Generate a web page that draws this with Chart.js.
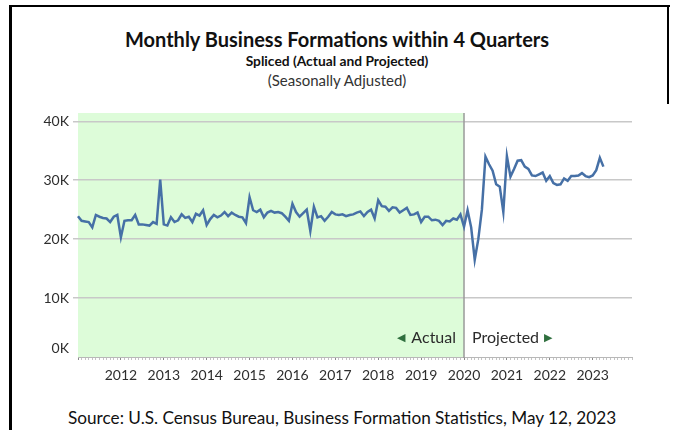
<!DOCTYPE html>
<html>
<head>
<meta charset="utf-8">
<script src="https://cdn.jsdelivr.net/npm/chart.js@4"></script>
<style>
    html, body { margin: 0; padding: 0; background: #fff; }
    body { width: 674px; height: 430px; position: relative; overflow: hidden; font-family: Lato, sans-serif; }
    #chart { position: absolute; left: 0; top: 0; }
    .frame { position: absolute; background: #000; }
    .txt { position: absolute; white-space: nowrap; color: #111; }
    #title { left: 0; width: 674px; top: 27px; text-align: center; font-weight: bold; font-size: 20px; line-height: 24px; }
    #subtitle { left: 0; width: 674px; top: 52px; text-align: center; font-weight: bold; font-size: 13.8px; line-height: 17px; }
    #note { left: 0; width: 674px; top: 71px; text-align: center; font-size: 15px; line-height: 18px; color: #333; }
    #source { left: 68px; top: 407px; font-size: 17.2px; line-height: 21px; }
</style>
</head>
<body>
<div class="frame" style="left:9px; top:5px; width:661px; height:2px;"></div>
<div class="frame" style="left:9px; top:5px; width:3px; height:425px;"></div>
<div class="frame" style="left:667px; top:5px; width:2px; height:99px;"></div>

<div class="txt" id="title">Monthly Business Formations within 4 Quarters</div>
<div class="txt" id="subtitle">Spliced (Actual and Projected)</div>
<div class="txt" id="note">(Seasonally Adjusted)</div>
<div class="txt" id="source">Source: U.S. Census Bureau, Business Formation Statistics, May 12, 2023</div>

<canvas id="chart" width="674" height="430"></canvas>

<script>
// axis years (Jan 2011 .. Dec 2023), labels shown on the x axis
const years = [2011, 2012, 2013, 2014, 2015, 2016, 2017, 2018, 2019, 2020, 2021, 2022, 2023];
const xTickYears = ['2012', '2013', '2014', '2015', '2016', '2017', '2018', '2019', '2020', '2021', '2022', '2023'];
const yTickLabels = ['0K', '10K', '20K', '30K', '40K'];

// business formations within 4 quarters, thousands, monthly from Jan 2011
const actualFormations = [
    23.9, 23.1, 23.0, 22.9, 22.0, 24.1, 23.8, 23.6, 23.5, 22.9, 23.8, 24.1,
    20.3, 23.1, 23.2, 23.2, 24.1, 22.5, 22.5, 22.4, 22.3, 22.9, 22.6, 30.1,
    22.5, 22.3, 23.7, 22.9, 23.2, 24.2, 23.6, 23.8, 22.9, 24.3, 24.0, 24.9,
    22.4, 23.4, 24.1, 23.7, 24.0, 24.6, 23.9, 24.5, 24.1, 23.8, 23.7, 22.7,
    27.1, 24.9, 24.6, 25.0, 23.7, 24.5, 24.8, 24.5, 24.6, 24.4, 23.8, 23.1,
    26.0, 24.6, 23.8, 24.4, 25.0, 21.4, 25.5, 23.7, 23.9, 23.1, 23.8, 24.6,
    24.2, 24.1, 24.2, 23.9, 24.1, 24.2, 24.5, 24.7, 23.9, 24.6, 25.0, 23.5,
    26.6, 25.6, 25.5, 24.8, 25.4, 25.3, 24.5, 24.9, 25.3, 24.1, 24.2, 24.5,
    22.9, 23.8, 23.8, 23.2, 23.3, 23.1, 22.4, 23.1, 23.0, 23.5, 23.3, 24.2
];
// projected from Jan 2020 to Apr 2023
const projectedFormations = [
    22.1, 24.9, 22.0, 16.5, 20.0, 25.0, 34.0, 32.7, 31.6, 29.3, 28.9, 24.6,
    34.1, 30.6, 31.9, 33.3, 33.4, 32.3, 31.9, 30.8, 30.7, 31.0, 31.3, 29.9,
    30.7, 29.5, 29.2, 29.3, 30.3, 29.9, 30.7, 30.7, 30.8, 31.2, 30.7, 30.5,
    30.8, 31.7, 33.8, 32.3
];

const splitLabel = '2020-01';

//------------------------------HELPERS------------------------------

function buildMonthLabels() {
    const labels = [];
    for (const year of years) {
        for (let month = 1; month <= 12; month++) {
            labels.push(year + '-' + String(month).padStart(2, '0'));
        }
    }
    return labels;
};

const monthLabels = buildMonthLabels();

// green "actual" area + divider + the Actual / Projected captions
const splicePlugin = {
    id: 'splice',
    beforeDraw(chart) {
        const { ctx, chartArea, scales } = chart;
        const splitX = scales.x.getPixelForValue(monthLabels.indexOf(splitLabel));
        ctx.save();
        ctx.fillStyle = 'rgb(221, 252, 217)';
        ctx.fillRect(chartArea.left, chartArea.top, splitX - chartArea.left, chartArea.bottom - chartArea.top);
        ctx.restore();
    },
    beforeDatasetsDraw(chart) {
        const { ctx, chartArea, scales } = chart;
        const splitX = scales.x.getPixelForValue(monthLabels.indexOf(splitLabel));
        ctx.save();
        ctx.strokeStyle = '#9a9a9a';
        ctx.lineWidth = 1.5;
        ctx.beginPath();
        ctx.moveTo(splitX, chartArea.top);
        ctx.lineTo(splitX, chartArea.bottom + 1);
        ctx.stroke();

        const y = 338;
        ctx.textBaseline = 'middle';
        ctx.font = '16px Lato';
        ctx.fillStyle = '#2b2b2b';
        const actualWidth = ctx.measureText('Actual').width;
        ctx.fillText('Actual', splitX - 8 - actualWidth, y);
        ctx.fillText('Projected', splitX + 8, y);
        const projectedWidth = ctx.measureText('Projected').width;

        ctx.font = '11px "DejaVu Sans"';
        ctx.fillStyle = '#2f6f3e';
        const arrowWidth = ctx.measureText('\u25C0').width;
        ctx.fillText('\u25C0', splitX - 8 - actualWidth - 6 - arrowWidth, y);
        ctx.fillText('\u25B6', splitX + 8 + projectedWidth + 5, y);
        ctx.restore();
    }
};

//------------------------------CHART------------------------------

new Chart(document.getElementById('chart'), {
    type: 'line',
    data: {
        labels: monthLabels,
        datasets: [{
            data: actualFormations.concat(projectedFormations),
            borderColor: 'rgb(70, 112, 166)',
            borderWidth: 2.5,
            pointRadius: 0,
            tension: 0,
            fill: false
        }]
    },
    options: {
        responsive: false,
        animation: false,
        devicePixelRatio: 1,
        layout: { padding: { left: 18, right: 42, top: 113, bottom: 33 } },
        plugins: {
            legend: { display: false },
            tooltip: { enabled: false }
        },
        scales: {
            x: {
                type: 'category',
                offset: false,
                afterFit: (scale) => { scale.height = 40; },
                border: { display: true, color: '#b8b8b8', width: 1, dash: [1, 1.5] },
                grid: {
                    drawOnChartArea: false,
                    drawTicks: true,
                    tickLength: 3,
                    color: (ctx) => (ctx.index % 12 === 0 ? '#8a8a8a' : '#c4c4c4')
                },
                ticks: {
                    autoSkip: false,
                    maxRotation: 0,
                    minRotation: 0,
                    padding: 7,
                    color: '#2e2e2e',
                    font: { family: 'Lato', size: 14 },
                    callback: (value, index) => {
                        const [year, month] = monthLabels[index].split('-');
                        return month === '01' && xTickYears.includes(year) ? year : '';
                    }
                }
            },
            y: {
                min: 0,
                max: 41.4,
                afterFit: (scale) => { scale.width = 60; },
                border: { display: false },
                grid: {
                    color: (ctx) => (ctx.tick && ctx.tick.value === 0 ? 'rgba(0,0,0,0)' : '#c8c8c8'),
                    lineWidth: 1.5,
                    tickLength: 5
                },
                ticks: {
                    stepSize: 10,
                    includeBounds: false,
                    padding: 4,
                    color: '#2e2e2e',
                    font: { family: 'Lato', size: 14 },
                    // the 0K label sits a little above the axis in the original
                    callback: (value, index) => (index === 0 ? [yTickLabels[index], ''] : yTickLabels[index])
                }
            }
        }
    },
    plugins: [splicePlugin]
});
</script>
</body>
</html>
